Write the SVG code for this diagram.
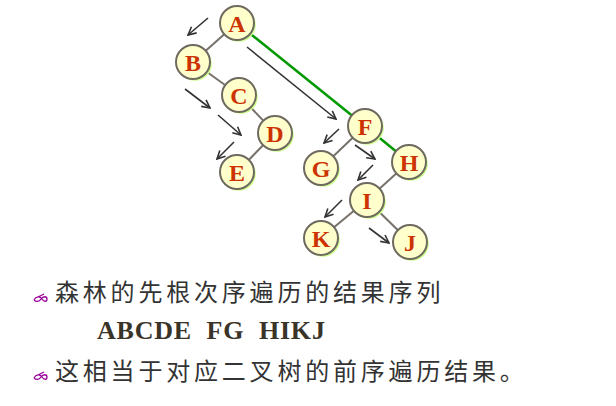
<svg xmlns="http://www.w3.org/2000/svg" width="616" height="406" viewBox="0 0 616 406">
<defs>
<marker id="ah" viewBox="0 0 10 10" refX="9" refY="5" markerWidth="10" markerHeight="10" markerUnits="userSpaceOnUse" orient="auto">
<path d="M1,1 L9,5 L1,9" fill="none" stroke="#333333" stroke-width="1.6"/>
</marker>
<g id="nodeShape">
<circle cx="1.8" cy="1.8" r="17" fill="#ccff88"/>
<circle cx="0" cy="0" r="17" fill="#ffffcc" stroke="#6e6a60" stroke-width="2"/>
</g>
</defs>
<style>
.edge{stroke:#77716a;stroke-width:2;fill:none}
.green{stroke:#009900;stroke-width:2.5;fill:none}
.arr{stroke:#333333;stroke-width:1.6;fill:none;marker-end:url(#ah)}
.lbl{font-family:"Liberation Serif",serif;font-weight:bold;font-size:24px;fill:#cc3300;text-anchor:middle}
.cn{font-family:"Liberation Serif","Noto Sans CJK SC",serif;font-size:24px;fill:#333333;letter-spacing:3.8px}
.en{font-family:"Liberation Serif",serif;font-weight:bold;font-size:26px;fill:#3a3428;letter-spacing:0.8px}
.bul{fill:none;stroke:#990099;stroke-width:1.3}
</style>
<rect width="616" height="406" fill="#ffffff"/>
<g id="connectors">
<line class="green" x1="237" y1="23" x2="365" y2="126"/>
<line class="green" x1="365" y1="126" x2="409" y2="162"/>
<line class="edge" x1="237" y1="23" x2="193" y2="62"/>
<line class="edge" x1="193" y1="62" x2="239" y2="95"/>
<line class="edge" x1="239" y1="95" x2="275" y2="133"/>
<line class="edge" x1="275" y1="133" x2="237" y2="172"/>
<line class="edge" x1="365" y1="126" x2="321" y2="168"/>
<line class="edge" x1="409" y1="162" x2="367" y2="200"/>
<line class="edge" x1="367" y1="200" x2="321" y2="238"/>
<line class="edge" x1="367" y1="200" x2="410" y2="242"/>
<line class="arr" x1="208" y1="18" x2="188" y2="35"/>
<line class="arr" x1="247" y1="47" x2="336" y2="119"/>
<line class="arr" x1="185" y1="89" x2="210" y2="108"/>
<line class="arr" x1="218" y1="115" x2="241" y2="135"/>
<line class="arr" x1="234" y1="142" x2="217" y2="159"/>
<line class="arr" x1="339" y1="129" x2="324" y2="143"/>
<line class="arr" x1="355" y1="145" x2="375" y2="159"/>
<line class="arr" x1="373" y1="165" x2="358" y2="180"/>
<line class="arr" x1="342" y1="200" x2="325" y2="217"/>
<line class="arr" x1="369" y1="228" x2="389" y2="243"/>
</g>
<g id="node-A"><use href="#nodeShape" x="237" y="23"/><text class="lbl" x="237" y="31.5">A</text></g>
<g id="node-B"><use href="#nodeShape" x="193" y="62"/><text class="lbl" x="193" y="70.5">B</text></g>
<g id="node-C"><use href="#nodeShape" x="239" y="95"/><text class="lbl" x="239" y="103.5">C</text></g>
<g id="node-D"><use href="#nodeShape" x="275" y="133"/><text class="lbl" x="275" y="141.5">D</text></g>
<g id="node-E"><use href="#nodeShape" x="237" y="172"/><text class="lbl" x="237" y="180.5">E</text></g>
<g id="node-F"><use href="#nodeShape" x="365" y="126"/><text class="lbl" x="365" y="134.5">F</text></g>
<g id="node-G"><use href="#nodeShape" x="321" y="168"/><text class="lbl" x="321" y="176.5">G</text></g>
<g id="node-H"><use href="#nodeShape" x="409" y="162"/><text class="lbl" x="409" y="170.5">H</text></g>
<g id="node-I"><use href="#nodeShape" x="367" y="200"/><text class="lbl" x="367" y="208.5">I</text></g>
<g id="node-K"><use href="#nodeShape" x="321" y="238"/><text class="lbl" x="321" y="246.5">K</text></g>
<g id="node-J"><use href="#nodeShape" x="410" y="242"/><text class="lbl" x="410" y="250.5">J</text></g>
<g id="bullets">
<path class="bul" d="M34,300 C36,296 40,296 42,299 C44,302 47,302 47,299 C47,296 43,296 41,299 C39,302 36,302 34,300 M38,297 L44,294"/>
<path class="bul" d="M34,378 C36,374 40,374 42,377 C44,380 47,380 47,377 C47,374 43,374 41,377 C39,380 36,380 34,378 M38,375 L44,372"/>
</g>
<text class="cn" x="55" y="301">森林的先根次序遍历的结果序列</text>
<text class="en" x="97" y="339" xml:space="preserve">ABCDE  FG  HIKJ</text>
<text class="cn" x="55" y="380">这相当于对应二叉树的前序遍历结果。</text>
</svg>
